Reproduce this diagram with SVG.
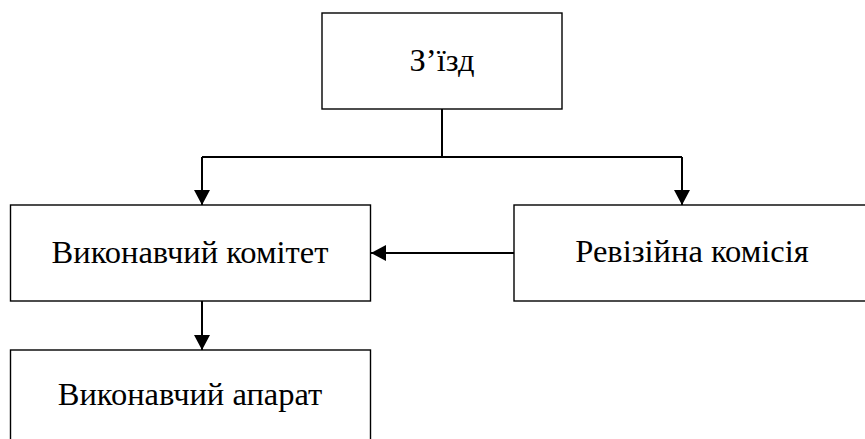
<svg xmlns="http://www.w3.org/2000/svg" width="865" height="439" viewBox="0 0 865 439">
<defs>
<marker id="ah" markerUnits="userSpaceOnUse" markerWidth="16" markerHeight="16" refX="15" refY="8" orient="auto">
<path d="M0,0 L15,8 L0,16 Z" fill="#000"/>
</marker>
<style>
.box{fill:#fff;stroke:#000;stroke-width:1.4}
.lbl{font-size:32.5px;fill:#000;text-anchor:middle}
.con{fill:none;stroke:#000;stroke-width:2}
</style>
</defs>
<rect width="865" height="439" fill="#fff"/>
<g id="connectors">
<path class="con" d="M442,109 V157"/>
<path class="con" d="M202,157 H682"/>
<path class="con" d="M202,157 V205" marker-end="url(#ah)"/>
<path class="con" d="M682,157 V205" marker-end="url(#ah)"/>
<path class="con" d="M514,253 H371" marker-end="url(#ah)"/>
<path class="con" d="M202,301 V350" marker-end="url(#ah)"/>
</g>
<g font-family="'Liberation Serif', 'DejaVu Serif', serif">
<g id="zizd">
<rect class="box" x="322" y="13" width="240" height="96"/>
<text class="lbl" x="442" y="71">З’їзд</text>
</g>
<g id="vykonkom">
<rect class="box" x="10.5" y="205" width="360" height="96"/>
<text class="lbl" x="190" y="263">Виконавчий комітет</text>
</g>
<g id="revkom">
<rect class="box" x="514" y="205" width="360" height="96"/>
<text class="lbl" x="692" y="262">Ревізійна комісія</text>
</g>
<g id="vykonaparat">
<rect class="box" x="10.5" y="350" width="360" height="96"/>
<text class="lbl" x="190" y="405">Виконавчий апарат</text>
</g>
</g>
</svg>
